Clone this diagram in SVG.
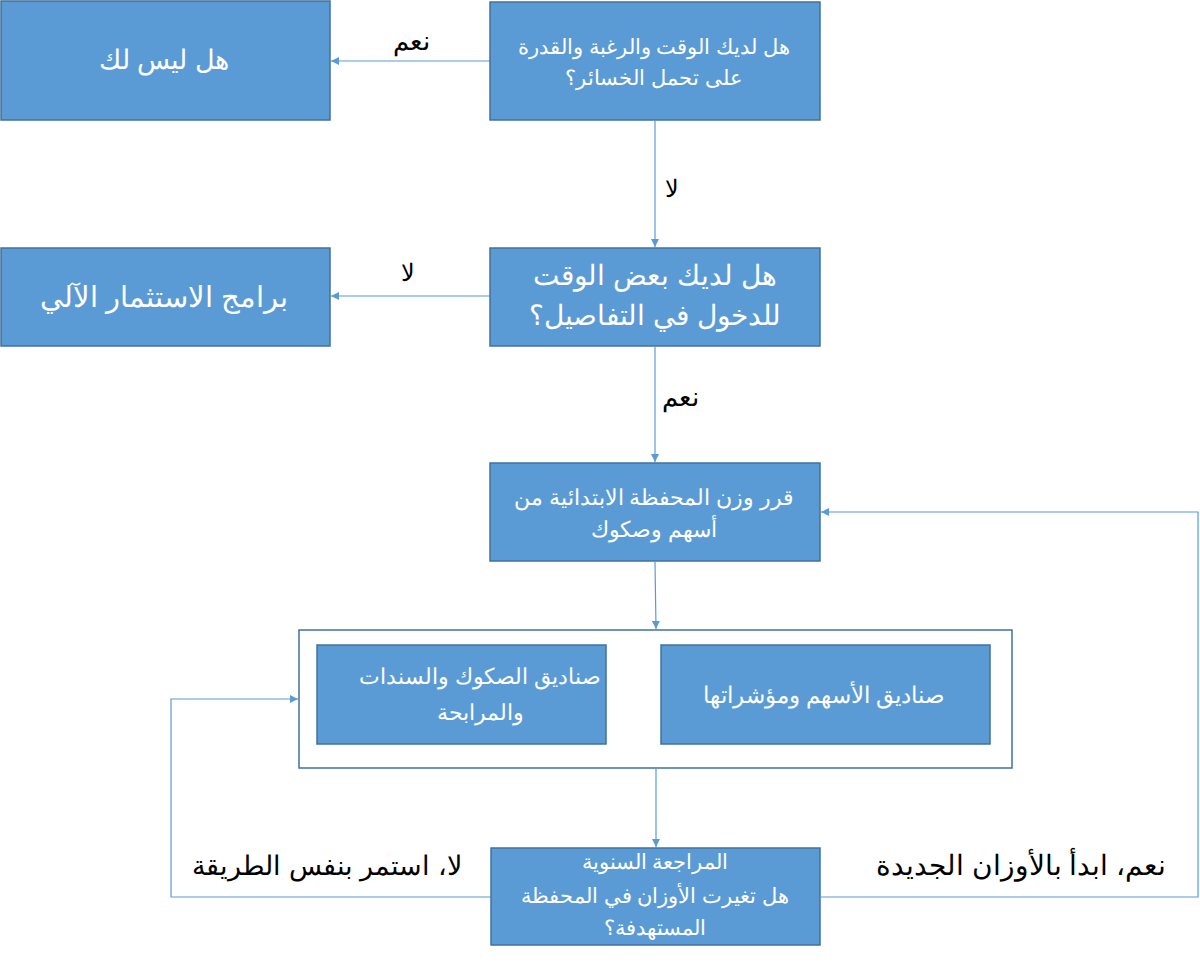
<svg xmlns="http://www.w3.org/2000/svg" width="1200" height="963" viewBox="0 0 1200 963">
<style>
.box{fill:#5B9BD5;stroke:#41719C;stroke-width:1.5}
.frame{fill:#FFFFFF;stroke:#41719C;stroke-width:1.5}
.t{font-family:"Liberation Sans",Arial,sans-serif;fill:#FFFFFF;text-anchor:middle;direction:rtl}
.lbl{font-family:"Liberation Sans",Arial,sans-serif;fill:#000000;text-anchor:middle;direction:rtl}
.c{fill:none;stroke:#5B9BD5;stroke-width:1.2}
</style>
<defs>
<marker id="ah" viewBox="0 0 10 10" refX="10" refY="5" markerWidth="8" markerHeight="8" markerUnits="userSpaceOnUse" orient="auto">
<path d="M0,0 L10,5 L0,10 z" fill="#5B9BD5"/>
</marker>
</defs>
<rect width="1200" height="963" fill="#FFFFFF"/>
<g id="connectors">
<path class="c" d="M490,61 H331" marker-end="url(#ah)"/>
<path class="c" d="M655,121 V247" marker-end="url(#ah)"/>
<path class="c" d="M490,296 H331" marker-end="url(#ah)"/>
<path class="c" d="M655,347 V462" marker-end="url(#ah)"/>
<path class="c" d="M655,562 L656,629" marker-end="url(#ah)"/>
<path class="c" d="M656,769 V847" marker-end="url(#ah)"/>
<path class="c" d="M491,897 H171 V699 H298" marker-end="url(#ah)"/>
<path class="c" d="M821,897 H1198 V512 H821" marker-end="url(#ah)"/>
<text class="lbl" x="411" y="50" font-size="26">نعم</text>
<text class="lbl" x="672" y="197" font-size="24">لا</text>
<text class="lbl" x="408" y="281" font-size="24">لا</text>
<text class="lbl" x="680" y="406" font-size="26">نعم</text>
<text class="lbl" x="327" y="875" font-size="26.5">لا، استمر بنفس الطريقة</text>
<text class="lbl" x="1021" y="875" font-size="27.5">نعم، ابدأ بالأوزان الجديدة</text>
</g>
<g id="n1">
<rect class="box" x="1" y="1" width="329" height="119"/>
<text class="t" x="164" y="69" font-size="26.5">هل ليس لك</text>
</g>
<g id="n2">
<rect class="box" x="490" y="2" width="330" height="118"/>
<text class="t" x="654" y="54" font-size="21">هل لديك الوقت والرغبة والقدرة</text>
<text class="t" x="654" y="85" font-size="21">على تحمل الخسائر؟</text>
</g>
<g id="n3">
<rect class="box" x="1" y="248" width="329" height="98"/>
<text class="t" x="164" y="307" font-size="28.5">برامج الاستثمار الآلي</text>
</g>
<g id="n4">
<rect class="box" x="490" y="248" width="330" height="98"/>
<text class="t" x="655" y="285" font-size="28">هل لديك بعض الوقت</text>
<text class="t" x="655" y="325" font-size="28">للدخول في التفاصيل؟</text>
</g>
<g id="n5">
<rect class="box" x="490" y="463" width="330" height="98"/>
<text class="t" x="654" y="505" font-size="21.5">قرر وزن المحفظة الابتدائية من</text>
<text class="t" x="654" y="537" font-size="21.5">أسهم وصكوك</text>
</g>
<g id="container">
<rect class="frame" x="299" y="630" width="713" height="138"/>
</g>
<g id="n6">
<rect class="box" x="317" y="645" width="289" height="99"/>
<text class="t" x="480" y="684" font-size="22">صناديق الصكوك والسندات</text>
<text class="t" x="480" y="720" font-size="22">والمرابحة</text>
</g>
<g id="n7">
<rect class="box" x="661" y="645" width="329" height="99"/>
<text class="t" x="824" y="703" font-size="22.5">صناديق الأسهم ومؤشراتها</text>
</g>
<g id="n8">
<rect class="box" x="491" y="848" width="329" height="97"/>
<text class="t" x="655" y="869" font-size="21">المراجعة السنوية</text>
<text class="t" x="655" y="903" font-size="21">هل تغيرت الأوزان في المحفظة</text>
<text class="t" x="655" y="935" font-size="21">المستهدفة؟</text>
</g>
</svg>
